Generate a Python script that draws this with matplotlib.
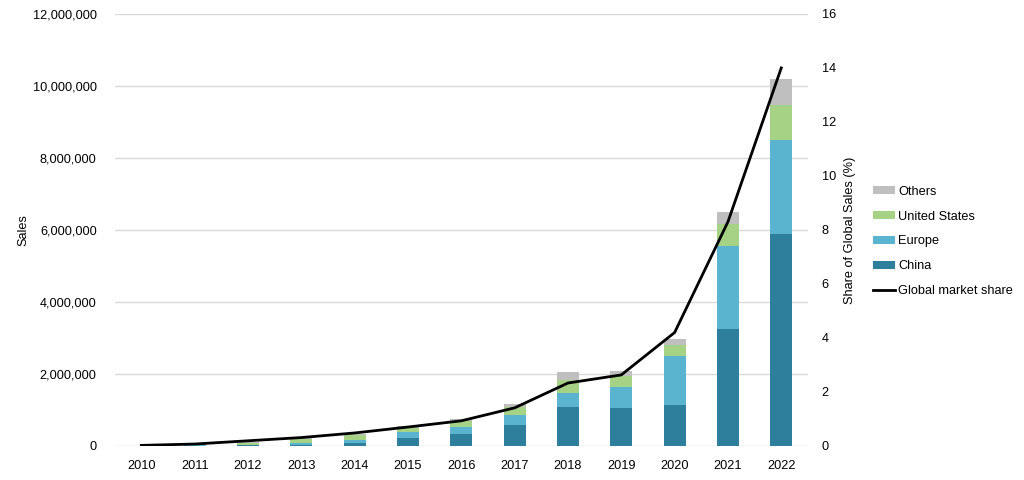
import matplotlib
matplotlib.use("Agg")
import matplotlib.pyplot as plt
from matplotlib.ticker import FuncFormatter
import numpy as np

plt.rcParams["font.family"] = ["Liberation Sans", "DejaVu Sans"]

years = ["2010", "2011", "2012", "2013", "2014", "2015", "2016",
         "2017", "2018", "2019", "2020", "2021", "2022"]
china = [0.005e6, 0.01e6, 0.015e6, 0.02e6, 0.07e6, 0.22e6, 0.33e6,
         0.58e6, 1.08e6, 1.06e6, 1.14e6, 3.25e6, 5.89e6]
europe = [0.002e6, 0.01e6, 0.02e6, 0.07e6, 0.10e6, 0.17e6, 0.20e6,
          0.28e6, 0.39e6, 0.58e6, 1.36e6, 2.31e6, 2.61e6]
us = [0.002e6, 0.02e6, 0.05e6, 0.10e6, 0.12e6, 0.11e6, 0.16e6,
      0.22e6, 0.36e6, 0.30e6, 0.30e6, 0.61e6, 0.97e6]
others = [0.001e6, 0.01e6, 0.02e6, 0.02e6, 0.03e6, 0.05e6, 0.06e6,
          0.09e6, 0.23e6, 0.14e6, 0.17e6, 0.33e6, 0.72e6]
share = [0.02, 0.07, 0.19, 0.31, 0.48, 0.70, 0.93, 1.41, 2.33, 2.63,
         4.2, 8.3, 14.0]

C_CHINA = "#2e7f9c"
C_EUROPE = "#5ab4d0"
C_US = "#a6d286"
C_OTHERS = "#bfbfbf"
FS = 9.2

fig = plt.figure(figsize=(10.24, 4.8), dpi=100)
ax = fig.add_axes([0.112, 0.071, 0.677, 0.900])
ax2 = ax.twinx()

x = np.arange(len(years))
w = 0.41
b1 = np.array(china)
b2 = b1 + np.array(europe)
b3 = b2 + np.array(us)
h_ch = ax.bar(x, china, w, color=C_CHINA, label="China", zorder=2)
h_eu = ax.bar(x, europe, w, bottom=b1, color=C_EUROPE, label="Europe", zorder=2)
h_us = ax.bar(x, us, w, bottom=b2, color=C_US, label="United States", zorder=2)
h_ot = ax.bar(x, others, w, bottom=b3, color=C_OTHERS, label="Others", zorder=2)

h_ln, = ax2.plot(x, share, color="black", lw=2, label="Global market share")

ax.set_xlim(-0.5, len(years) - 0.5)
ax.set_ylim(0, 12e6)
ax.set_yticks(np.arange(0, 12e6 + 1, 2e6))
ax.yaxis.set_major_formatter(FuncFormatter(lambda v, p: f"{int(v):,}"))
ax.set_xticks(x)
ax.set_xticklabels(years)
ax.grid(axis="y", color="#d9d9d9", lw=1, zorder=0)
ax.set_axisbelow(True)

ax2.set_ylim(0, 16)
ax2.set_yticks(np.arange(0, 17, 2))

for a in (ax, ax2):
    for s in a.spines.values():
        s.set_visible(False)
    a.tick_params(length=0, labelsize=FS, colors="#000000")
ax.tick_params(axis="x", pad=10)
ax.tick_params(axis="y", pad=13)
ax2.tick_params(axis="y", pad=10)

ax.set_ylabel("Sales", fontsize=FS, labelpad=2)
ax2.set_ylabel("Share of Global Sales (%)", fontsize=FS, labelpad=6)

fig.legend([h_ot, h_us, h_eu, h_ch, h_ln],
           ["Others", "United States", "Europe", "China", "Global market share"],
           loc="center left", bbox_to_anchor=(0.841, 0.497), frameon=False,
           fontsize=FS, handlelength=1.75, handleheight=0.6,
           handletextpad=0.25, labelspacing=1.0)

fig.savefig("out.png", dpi=100)
